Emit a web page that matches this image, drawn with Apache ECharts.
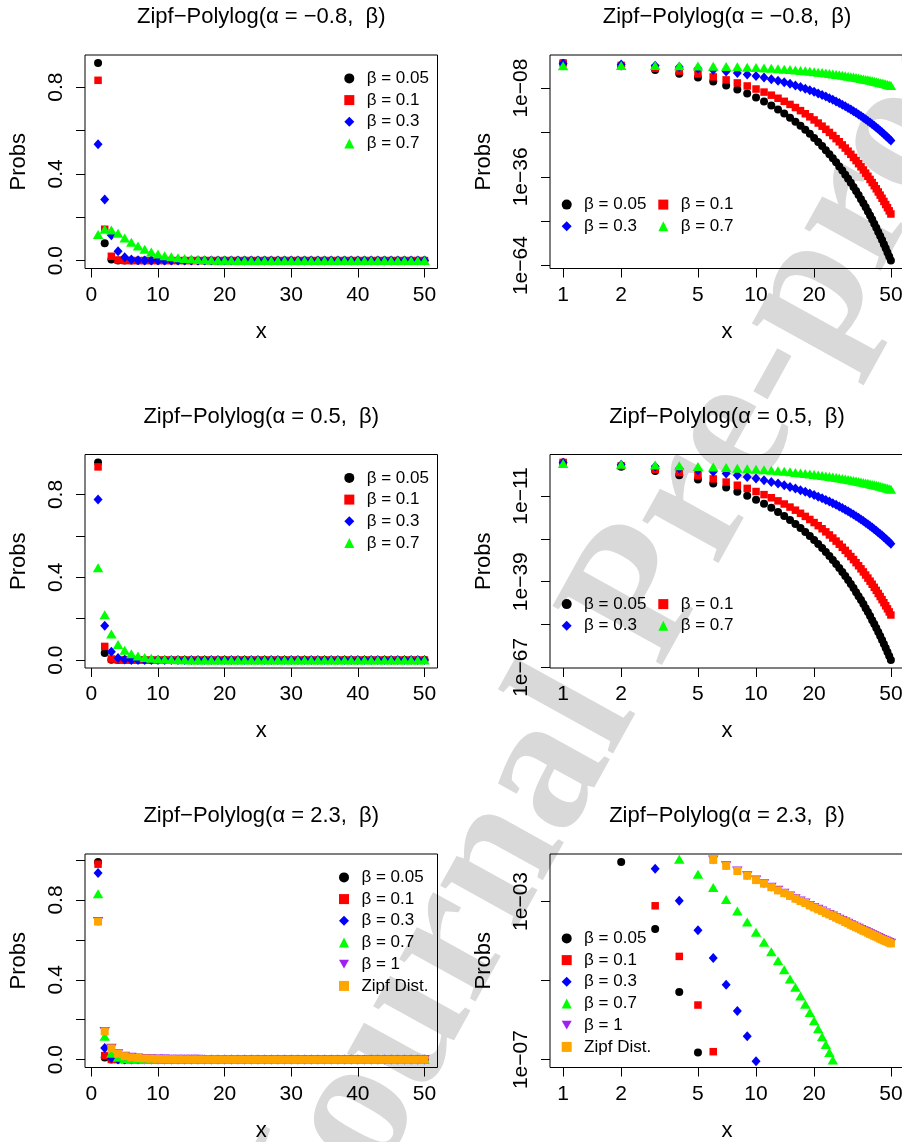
<!DOCTYPE html>
<html>
<head>
<meta charset="utf-8">
<script src="https://cdn.jsdelivr.net/npm/echarts@6/dist/echarts.min.js"></script>
<style>
  html, body { margin: 0; padding: 0; background: #fff; }
  #chart { width: 902px; height: 1142px; }
</style>
</head>
<body>
<div id="chart"></div>
<script>
// support of the distribution
const xVals = [1,2,3,4,5,6,7,8,9,10,11,12,13,14,15,16,17,18,19,20,21,22,23,24,25,
  26,27,28,29,30,31,32,33,34,35,36,37,38,39,40,41,42,43,44,45,46,47,48,49,50];

// log10(prob), alpha = -0.8
const m08_b005 = [-0.04,-1.10,-2.26,-3.46,-4.68,-5.92,-7.17,-8.42,-9.68,-10.95,-12.22,-13.49,-14.76,-16.04,-17.31,-18.59,-19.87,-21.15,-22.43,-23.72,-25.00,-26.29,-27.57,-28.86,-30.15,-31.43,-32.72,-34.01,-35.30,-36.59,-37.88,-39.17,-40.46,-41.75,-43.04,-44.33,-45.62,-46.91,-48.21,-49.50,-50.79,-52.08,-53.38,-54.67,-55.96,-57.26,-58.55,-59.84,-61.14,-62.43];
const m08_b01 = [-0.08,-0.84,-1.70,-2.60,-3.52,-4.46,-5.40,-6.36,-7.32,-8.28,-9.25,-10.22,-11.19,-12.16,-13.14,-14.12,-15.10,-16.08,-17.06,-18.04,-19.02,-20.01,-20.99,-21.98,-22.96,-23.95,-24.93,-25.92,-26.91,-27.90,-28.89,-29.88,-30.87,-31.85,-32.84,-33.83,-34.83,-35.82,-36.81,-37.80,-38.79,-39.78,-40.77,-41.77,-42.76,-43.75,-44.74,-45.73,-46.73,-47.72];
const m08_b03 = [-0.27,-0.55,-0.93,-1.36,-1.80,-2.26,-2.73,-3.21,-3.69,-4.18,-4.67,-5.16,-5.65,-6.15,-6.65,-7.15,-7.65,-8.16,-8.66,-9.16,-9.67,-10.18,-10.68,-11.19,-11.70,-12.21,-12.72,-13.23,-13.74,-14.25,-14.76,-15.28,-15.79,-16.30,-16.81,-17.33,-17.84,-18.35,-18.87,-19.38,-19.90,-20.41,-20.93,-21.44,-21.96,-22.47,-22.99,-23.50,-24.02,-24.53];
const m08_b07 = [-0.92,-0.84,-0.85,-0.90,-0.98,-1.07,-1.17,-1.28,-1.40,-1.52,-1.64,-1.76,-1.89,-2.02,-2.15,-2.28,-2.42,-2.55,-2.69,-2.82,-2.96,-3.10,-3.24,-3.38,-3.52,-3.66,-3.80,-3.95,-4.09,-4.23,-4.38,-4.52,-4.66,-4.81,-4.95,-5.10,-5.24,-5.39,-5.53,-5.68,-5.83,-5.97,-6.12,-6.27,-6.41,-6.56,-6.71,-6.86,-7.00,-7.15];

// log10(prob), alpha = 0.5
const p05_b005 = [-0.02,-1.47,-2.86,-4.22,-5.57,-6.91,-8.24,-9.57,-10.90,-12.23,-13.55,-14.87,-16.19,-17.50,-18.82,-20.13,-21.45,-22.76,-24.07,-25.39,-26.70,-28.01,-29.32,-30.63,-31.94,-33.25,-34.56,-35.87,-37.18,-38.48,-39.79,-41.10,-42.41,-43.72,-45.02,-46.33,-47.64,-48.94,-50.25,-51.56,-52.86,-54.17,-55.48,-56.78,-58.09,-59.39,-60.70,-62.00,-63.31,-64.62];
const p05_b01 = [-0.03,-1.18,-2.27,-3.33,-4.38,-5.42,-6.45,-7.48,-8.51,-9.53,-10.55,-11.57,-12.59,-13.61,-14.62,-15.63,-16.65,-17.66,-18.67,-19.68,-20.69,-21.70,-22.71,-23.72,-24.73,-25.74,-26.75,-27.76,-28.76,-29.77,-30.78,-31.78,-32.79,-33.80,-34.80,-35.81,-36.82,-37.82,-38.83,-39.83,-40.84,-41.84,-42.85,-43.85,-44.86,-45.86,-46.87,-47.87,-48.88,-49.88];
const p05_b03 = [-0.11,-0.78,-1.39,-1.98,-2.55,-3.11,-3.67,-4.22,-4.77,-5.31,-5.86,-6.40,-6.94,-7.48,-8.02,-8.55,-9.09,-9.62,-10.16,-10.69,-11.23,-11.76,-12.29,-12.82,-13.36,-13.89,-14.42,-14.95,-15.48,-16.01,-16.54,-17.07,-17.60,-18.13,-18.66,-19.19,-19.72,-20.24,-20.77,-21.30,-21.83,-22.36,-22.89,-23.41,-23.94,-24.47,-25.00,-25.52,-26.05,-26.58];
const p05_b07 = [-0.35,-0.66,-0.90,-1.12,-1.32,-1.52,-1.71,-1.89,-2.07,-2.25,-2.42,-2.60,-2.77,-2.94,-3.11,-3.28,-3.45,-3.61,-3.78,-3.95,-4.11,-4.28,-4.44,-4.61,-4.77,-4.93,-5.10,-5.26,-5.42,-5.58,-5.75,-5.91,-6.07,-6.23,-6.39,-6.55,-6.71,-6.87,-7.04,-7.20,-7.36,-7.52,-7.68,-7.84,-8.00,-8.16,-8.31,-8.47,-8.63,-8.79];

// log10(prob), alpha = 2.3
const p23_b005 = [-0.004,-2.00,-3.70,-5.29,-6.82,-8.30,-9.75,-11.19,-12.61,-14.01,-15.41,-16.80,-18.18,-19.55,-20.92,-22.29,-23.65,-25.01,-26.36,-27.72,-29.07,-30.41,-31.76,-33.10,-34.44,-35.78,-37.12,-38.46,-39.80,-41.13,-42.47,-43.80,-45.13,-46.46,-47.79,-49.12,-50.45,-51.78,-53.10,-54.43,-55.76,-57.08,-58.40,-59.73,-61.05,-62.38,-63.70,-65.02,-66.34,-67.66];
const p23_b01 = [-0.009,-1.70,-3.11,-4.39,-5.62,-6.80,-7.95,-9.09,-10.20,-11.31,-12.40,-13.49,-14.57,-15.65,-16.71,-17.78,-18.84,-19.90,-20.95,-22.00,-23.05,-24.10,-25.14,-26.18,-27.22,-28.26,-29.30,-30.34,-31.37,-32.41,-33.44,-34.47,-35.50,-36.53,-37.56,-38.59,-39.62,-40.64,-41.67,-42.69,-43.72,-44.74,-45.77,-46.79,-47.81,-48.83,-49.85,-50.88,-51.90,-52.92];
const p23_b03 = [-0.029,-1.24,-2.17,-2.98,-3.73,-4.43,-5.11,-5.77,-6.41,-7.04,-7.65,-8.26,-8.87,-9.46,-10.05,-10.64,-11.23,-11.81,-12.38,-12.96,-13.53,-14.10,-14.66,-15.23,-15.79,-16.36,-16.92,-17.48,-18.03,-18.59,-19.15,-19.70,-20.25,-20.81,-21.36,-21.91,-22.46,-23.01,-23.56,-24.11,-24.65,-25.20,-25.75,-26.29,-26.84,-27.38,-27.93,-28.47,-29.01,-29.56];
const p23_b07 = [-0.08,-0.93,-1.49,-1.93,-2.31,-2.65,-2.95,-3.24,-3.52,-3.78,-4.03,-4.27,-4.50,-4.73,-4.96,-5.17,-5.39,-5.60,-5.81,-6.02,-6.22,-6.42,-6.62,-6.82,-7.01,-7.21,-7.40,-7.59,-7.78,-7.97,-8.16,-8.35,-8.53,-8.72,-8.90,-9.08,-9.27,-9.45,-9.63,-9.81,-9.99,-10.17,-10.34,-10.52,-10.70,-10.88,-11.05,-11.23,-11.40,-11.58];
const p23_b1 = [-0.16,-0.85,-1.25,-1.54,-1.76,-1.95,-2.10,-2.23,-2.35,-2.46,-2.55,-2.64,-2.72,-2.79,-2.86,-2.93,-2.99,-3.04,-3.10,-3.15,-3.20,-3.24,-3.29,-3.33,-3.37,-3.41,-3.45,-3.48,-3.52,-3.55,-3.59,-3.62,-3.65,-3.68,-3.71,-3.74,-3.76,-3.79,-3.82,-3.84,-3.87,-3.89,-3.91,-3.94,-3.96,-3.98,-4.00,-4.02,-4.04,-4.06];
// the Zipf points sit exactly on top of the beta = 1 points
const p23_zipf = p23_b1;

const seriesNames = ['β = 0.05', 'β = 0.1', 'β = 0.3', 'β = 0.7', 'β = 1', 'Zipf Dist.'];

// tick labels
const linXTicks = [0, 10, 20, 30, 40, 50];
const logXTicks = [1, 2, 5, 10, 20, 50];
const linYTicks = [0, 0.2, 0.4, 0.6, 0.8, 1.0];
const linYLabels = [0, 0.4, 0.8];
const logYTicksM08 = [-64, -50, -36, -22, -8];
const logYLabelsM08 = [-64, -36, -8];
const logYTicksP05 = [-67, -53, -39, -25, -11];
const logYLabelsP05 = [-67, -39, -11];
const logYTicksP23 = [-7, -5, -3];
const logYLabelsP23 = [-7, -3];

const FONT = '"Liberation Sans", Arial, Helvetica, sans-serif';
const colors = ['#000000', '#ff0000', '#0000ff', '#00ff00', '#a020f0', '#ffa500'];
const symbols = ['circle', 'rect', 'diamond', 'triangle', 'triangle', 'rect'];
const symSizes = [8, 7.5, [9, 10], [10.5, 9], [10.5, 9], 8];
const legendIcons = ['circle', 'rect', 'diamond', 'triangle', 'path://M0,0L10,0L5,8.7Z', 'rect'];

// plot boxes
const colLeft = [85, 550];
const colWidth = [352.5, 354];
const rowTop = [55, 454.5, 854];
const plotH = 213.5;

const panels = [
  { alpha: '−0.8', log: false, sets: [m08_b005, m08_b01, m08_b03, m08_b07] },
  { alpha: '−0.8', log: true, sets: [m08_b005, m08_b01, m08_b03, m08_b07], yTicks: logYTicksM08, yLabels: logYLabelsM08 },
  { alpha: '0.5', log: false, sets: [p05_b005, p05_b01, p05_b03, p05_b07] },
  { alpha: '0.5', log: true, sets: [p05_b005, p05_b01, p05_b03, p05_b07], yTicks: logYTicksP05, yLabels: logYLabelsP05 },
  { alpha: '2.3', log: false, sets: [p23_b005, p23_b01, p23_b03, p23_b07, p23_b1, p23_zipf] },
  { alpha: '2.3', log: true, sets: [p23_b005, p23_b01, p23_b03, p23_b07, p23_b1, p23_zipf], yTicks: logYTicksP23, yLabels: logYLabelsP23, yLim: [-7, -2] }
];

// R style axis range: data range widened by 4% on each side
function pad4(lo, hi) {
  const d = (hi - lo) * 0.04;
  return [lo - d, hi + d];
}

const grids = [], xAxes = [], yAxes = [], series = [], legends = [], graphics = [];

const tickStyle = { show: true, inside: false, length: 9, lineStyle: { color: '#000', width: 1 } };

panels.forEach((p, k) => {
  const col = k % 2, row = Math.floor(k / 2);
  const left = colLeft[col], top = rowTop[row], w = colWidth[col];
  grids.push({ left: left, top: top, width: w, height: plotH, show: true,
    borderColor: '#000', borderWidth: 1, backgroundColor: 'transparent', outerBoundsMode: 'none' });

  // y range
  let yr;
  if (p.yLim) yr = pad4(p.yLim[0], p.yLim[1]);
  else {
    const all = [].concat(...p.sets);
    const lo = Math.min(...all), hi = Math.max(...all);
    yr = p.log ? pad4(lo, hi) : pad4(0, Math.pow(10, hi));
  }
  const xr = p.log ? pad4(0, Math.log10(50)) : pad4(1, 50);

  xAxes.push({
    type: 'value', gridIndex: k, min: xr[0], max: xr[1],
    axisLine: { show: false, onZero: false }, splitLine: { show: false },
    axisTick: Object.assign({ customValues: p.log ? logXTicks.map(Math.log10) : linXTicks }, tickStyle),
    axisLabel: {
      customValues: p.log ? logXTicks.map(Math.log10) : linXTicks,
      color: '#000', fontSize: 21, fontFamily: FONT, margin: 16,
      formatter: v => p.log ? String(Math.round(Math.pow(10, v))) : String(Math.round(v))
    },
    name: 'x', nameLocation: 'middle', nameGap: 52,
    nameTextStyle: { color: '#000', fontSize: 22, fontFamily: FONT }
  });

  yAxes.push({
    type: 'value', gridIndex: k, min: yr[0], max: yr[1],
    axisLine: { show: false, onZero: false }, splitLine: { show: false },
    axisTick: Object.assign({ customValues: p.log ? p.yTicks : linYTicks }, tickStyle),
    axisLabel: {
      customValues: p.log ? p.yLabels : linYLabels,
      rotate: 90, color: '#000', fontSize: 21, fontFamily: FONT, margin: 18,
      formatter: v => p.log ? '1e−' + String(Math.round(-v)).padStart(2, '0') : v.toFixed(1)
    },
    name: 'Probs', nameLocation: 'middle', nameRotate: 90, nameGap: 55,
    nameTextStyle: { color: '#000', fontSize: 22, fontFamily: FONT }
  });

  p.sets.forEach((arr, j) => {
    series.push({
      type: 'scatter', name: seriesNames[j], xAxisIndex: k, yAxisIndex: k,
      data: xVals.map((x, i) => p.log ? [Math.log10(x), arr[i]] : [x, Math.pow(10, arr[i])]),
      symbol: symbols[j], symbolSize: symSizes[j], symbolRotate: j === 4 ? 180 : 0,
      itemStyle: { color: colors[j], opacity: 1 },
      clip: true, silent: true, animation: false
    });
  });

  // legends (no box, like bty = "n")
  const legBase = {
    orient: 'vertical', selectedMode: false, padding: 0,
    itemWidth: 10, itemHeight: 10, itemGap: 1.7,
    textStyle: { color: '#000', fontSize: 17, fontFamily: FONT, lineHeight: 20, padding: [0, 0, 0, 7.4] }
  };
  const item = j => ({ name: seriesNames[j], icon: legendIcons[j] });
  if (!p.log) {
    legends.push(Object.assign({}, legBase, {
      left: left + (p.sets.length > 4 ? 254 : 259.3), top: top + 13.4,
      data: p.sets.map((s, j) => item(j))
    }));
  } else if (p.sets.length > 4) {
    legends.push(Object.assign({}, legBase, {
      left: left + 11.7, top: top + 74.4, data: p.sets.map((s, j) => item(j))
    }));
  } else {
    legends.push(Object.assign({}, legBase, { left: left + 11.7, top: top + 139.6, data: [item(0), item(2)] }));
    legends.push(Object.assign({}, legBase, { left: left + 108.3, top: top + 139.6, data: [item(1), item(3)] }));
  }

  graphics.push({
    type: 'text', x: left + w / 2, y: top - 38, silent: true,
    style: { text: 'Zipf−Polylog(α = ' + p.alpha + ',  β)', fill: '#000',
      font: '22px ' + FONT, align: 'center', verticalAlign: 'middle' }
  });
});

// watermark of the source page
graphics.unshift({
  type: 'text', x: 642, y: 600, rotation: 61 * Math.PI / 180, z: -10, silent: true,
  style: { text: 'Journal Pre-proof', fill: '#d9d9d9', font: 'bold 190px "Liberation Serif", serif',
    align: 'center', verticalAlign: 'middle' }
});

const chart = echarts.init(document.getElementById('chart'), null, { renderer: 'canvas' });
chart.setOption({
  animation: false,
  textStyle: { fontFamily: FONT },
  grid: grids, xAxis: xAxes, yAxis: yAxes,
  legend: legends, series: series, graphic: graphics
});
</script>
</body>
</html>
